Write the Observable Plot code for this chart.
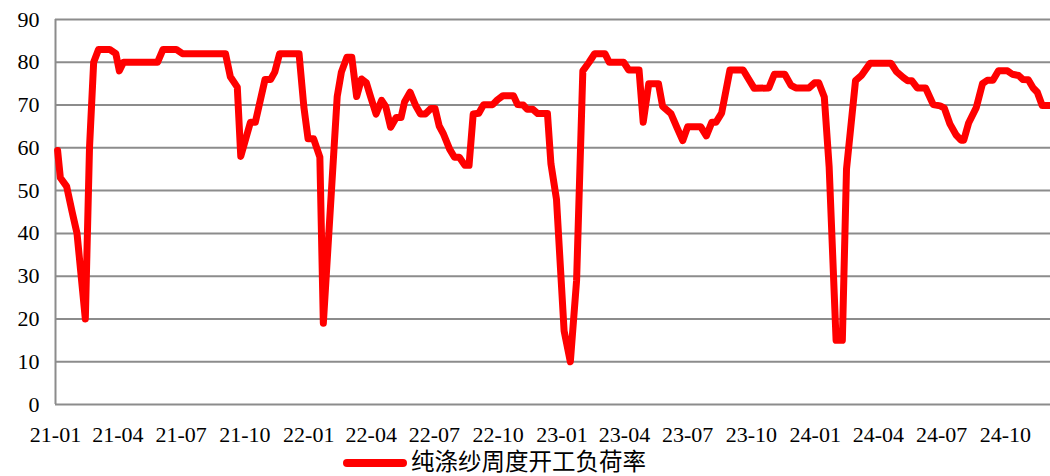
<!DOCTYPE html>
<html>
<head>
<meta charset="utf-8">
<script src="https://cdn.jsdelivr.net/npm/d3@7"></script>
<script src="https://cdn.jsdelivr.net/npm/@observablehq/plot@0.6"></script>
<style>
  html, body { margin: 0; padding: 0; background: #fff; }
  #wrap { position: relative; width: 1050px; height: 476px; overflow: hidden; }
  #legend { position: absolute; left: 343px; top: 451px; display: flex; align-items: center; line-height: 1;
    font-family: "Liberation Serif", "Noto Sans CJK SC", serif; font-size: 23.5px; color: #000; }
  #legend svg { margin-right: 4px; }
</style>
</head>
<body>
<div id="wrap">
  <div id="chart"></div>
  <div id="legend"></div>
</div>
<script>
// Series name
const seriesName = "纯涤纱周度开工负荷率";
// Start date; observations are given as day offsets from it
const startDate = "2021-01-01";
const endDate = "2024-12-05";
const dayOffsets = [3, 7, 16, 24, 31, 43, 49, 55, 62, 78, 87, 92, 98, 147, 155, 174, 183, 245, 252, 262, 267, 281, 288, 302, 310, 316, 323, 351, 358, 364, 372, 381, 386, 406, 412, 420, 427, 434, 441, 448, 454, 462, 470, 476, 483, 491, 498, 503, 511, 519, 526, 533, 541, 547, 553, 559, 568, 575, 582, 590, 596, 602, 610, 617, 630, 637, 645, 660, 666, 674, 680, 688, 695, 709, 714, 722, 733, 742, 751, 760, 769, 777, 792, 798, 819, 826, 841, 847, 855, 869, 875, 887, 896, 904, 911, 930, 938, 946, 952, 960, 972, 991, 1007, 1028, 1036, 1051, 1060, 1067, 1086, 1094, 1100, 1108, 1115, 1125, 1134, 1140, 1153, 1162, 1174, 1204, 1212, 1222, 1228, 1234, 1242, 1254, 1265, 1275, 1281, 1289, 1298, 1305, 1309, 1316, 1327, 1336, 1343, 1351, 1359, 1372, 1379, 1388, 1394, 1402, 1409, 1415, 1422, 1432];
// Load rate values (%)
const loadRate = [59.4, 53, 51, 45, 40, 20, 60, 80, 83, 83, 82, 78, 80, 80, 83, 83, 82, 82, 76.6, 74.2, 58, 66, 66, 76, 76, 77.7, 82, 82, 69.5, 62.1, 62.1, 57.8, 19, 72, 77.7, 81.2, 81.2, 72, 76.1, 75.2, 72, 67.9, 71.1, 69.6, 64.8, 67.1, 67.1, 70.7, 73, 69.9, 67.9, 67.9, 69.2, 69.2, 65.1, 63.3, 59.7, 57.8, 57.8, 55.9, 55.9, 67.9, 68.1, 70.1, 70.1, 71.25, 72.2, 72.2, 70.1, 70, 69, 69, 68, 68, 56.3, 48, 17.2, 10, 29, 78, 80, 82, 82, 80, 80, 78.2, 78.2, 66, 75, 75, 69.7, 68, 64.6, 61.7, 64.9, 64.9, 62.8, 66, 66, 68.1, 78.2, 78.2, 73.9, 74, 77.2, 77.2, 74.6, 74, 74, 75.2, 75.2, 71.9, 55.5, 15, 15, 55, 75.7, 77, 79.8, 79.8, 77.8, 76.4, 75.7, 75.7, 74, 74, 70.1, 69.8, 69.3, 65.6, 63, 61.8, 61.8, 65.8, 69.4, 75, 75.8, 75.8, 78, 78, 77.2, 76.9, 76, 75.9, 74, 73, 69.9, 69.9];
// Tick labels
const xTickLabels = ["21-01","21-04","21-07","21-10","22-01","22-04","22-07","22-10","23-01","23-04","23-07","23-10","24-01","24-04","24-07","24-10"];
const yTicks = [0, 10, 20, 30, 40, 50, 60, 70, 80, 90];

const start = new Date(startDate + "T00:00:00Z");
const end = new Date(endDate + "T00:00:00Z");
const data = dayOffsets.map((d, i) => ({date: d3.utcDay.offset(start, d), value: loadRate[i]}));
const xTicks = xTickLabels.map(s => new Date(`20${s.slice(0,2)}-${s.slice(3)}-01T00:00:00Z`));

const gridColor = "#8c8c8c";
const serif = "'Liberation Serif', 'Times New Roman', serif";
const chart = Plot.plot({
  width: 1050,
  height: 448,
  marginTop: 19,
  marginBottom: 44,
  marginLeft: 55,
  marginRight: 0,
  style: {fontSize: "22px", fontFamily: serif, color: "#000", background: "#fff", overflow: "visible"},
  x: {type: "utc", domain: [start, end], ticks: xTicks, tickFormat: d3.utcFormat("%y-%m"), tickSize: 0, tickPadding: 22, label: null},
  y: {domain: [0, 90], ticks: yTicks, tickSize: 0, tickPadding: 16, label: null},
  marks: [
    Plot.ruleY(yTicks, {stroke: gridColor, strokeWidth: 2}),
    Plot.ruleX([start], {stroke: gridColor, strokeWidth: 2, y1: 0, y2: 90}),
    Plot.line(data, {x: "date", y: "value", stroke: "#ff0000", strokeWidth: 7, strokeLinejoin: "round", strokeLinecap: "round"})
  ]
});
chart.setAttribute("font-family", serif);
chart.querySelectorAll("g").forEach(g => { if (g.getAttribute("font-family")) g.setAttribute("font-family", serif); });
chart.querySelectorAll("text").forEach(t => { t.setAttribute("fill", "#000"); t.style.fontFamily = serif; t.setAttribute("font-family", serif); });
document.getElementById("chart").appendChild(chart);

const legend = document.getElementById("legend");
legend.innerHTML = `<svg width="64" height="12"><line x1="4" y1="6" x2="60" y2="6" stroke="#ff0000" stroke-width="8" stroke-linecap="round"/></svg><span>${seriesName}</span>`;
</script>
</body>
</html>
